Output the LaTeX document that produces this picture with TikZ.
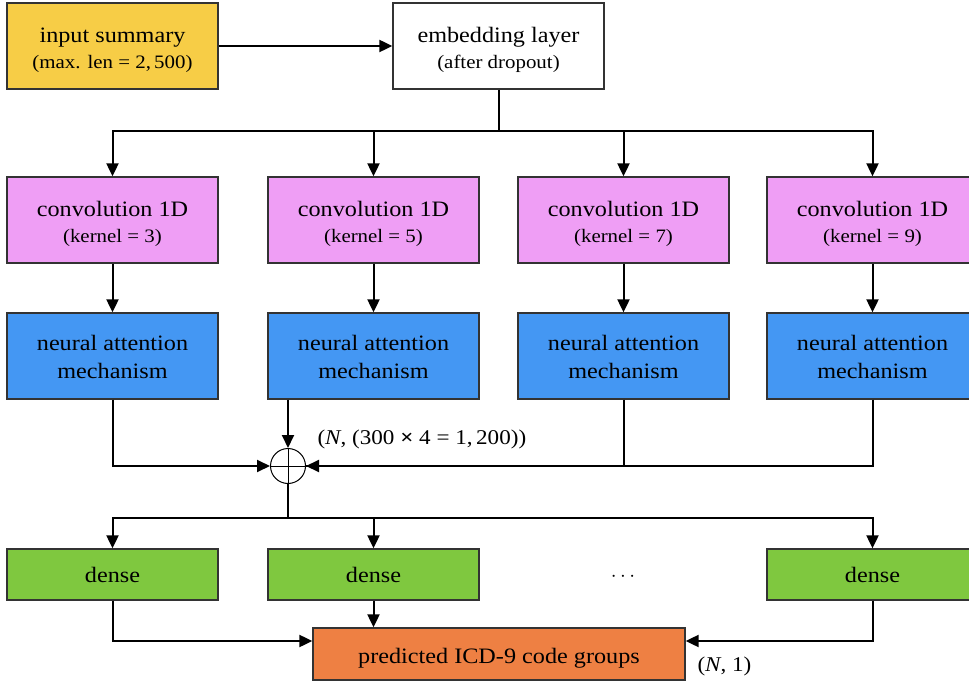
\documentclass[tikz,border=0pt]{standalone}
\usepackage{fontspec}
\setmainfont{Liberation Serif}[FakeStretch=1.1]
\usetikzlibrary{arrows.meta,calc}
\definecolor{cyellow}{HTML}{F7CD46}
\definecolor{cpink}{HTML}{EF9EF5}
\definecolor{cblue}{HTML}{4497F3}
\definecolor{cgreen}{HTML}{7FC83F}
\definecolor{corange}{HTML}{EE8043}
\definecolor{cborder}{HTML}{333333}
\begin{document}
\begin{tikzpicture}[x=1pt,y=-1pt,
 box/.style={draw=cborder, line width=1.3pt, minimum width=211pt, minimum height=86pt, inner sep=0pt, align=center, font=\fontsize{22}{26}\selectfont},
 smalltext/.style={font=\fontsize{21}{24}\selectfont},
 arr/.style={line width=2pt, -{Triangle[length=13pt,width=12pt]}},
 ln/.style={line width=2pt},
]
\useasboundingbox (0,0) rectangle (969,687);
\newcommand{\sm}{\fontsize{19}{22}\selectfont}
\newcommand{\tallst}{\rule{0pt}{24pt}}
\node[box, fill=cyellow] (inp) at (112.5,46) {\tallst input summary\\{\sm (max. len = 2,\,500)}};
\node[box, fill=white] (emb) at (498.5,46) {\tallst embedding layer\\{\sm (after dropout)}};
\foreach \i/\x/\k in {1/112.5/3, 2/373.5/5, 3/623.5/7, 4/872.5/9}{
  \node[box, fill=cpink] (c\i) at (\x,220) {\tallst convolution 1D\\{\sm (kernel = \k)}};
  \node[box, fill=cblue, font=\fontsize{22}{28}\selectfont] (a\i) at (\x,356) {\rule{0pt}{18pt}neural attention\\mechanism};
}
\node[draw, circle, minimum size=35pt, inner sep=0pt, line width=1pt] (sum) at (288,466) {};
\node[box, minimum height=51pt, fill=cgreen] (d1) at (112.5,574.5) {dense};
\node[box, minimum height=51pt, fill=cgreen] (d2) at (373.5,574.5) {dense};
\node[box, minimum height=51pt, fill=cgreen] (d4) at (872.5,574.5) {dense};
\node[font=\fontsize{22}{27}\selectfont] (dots) at (623,577) {$\cdots$};
\node[box, minimum width=372pt, minimum height=52pt, fill=corange] (out) at (499,654) {\rule{0pt}{23pt}predicted ICD-9 code groups};
\node[anchor=west, smalltext] (lab1) at (314,439) {(\textit{N}, (300 \textbf{×} 4 = 1,\,200))};
\node[anchor=west, smalltext] (lab2) at (694,666) {(\textit{N}, 1)};

\draw[arr] (inp) -- (emb);
\coordinate (b1) at (498.5,131);
\draw[ln] (emb.south) -- (b1);
\foreach \i in {1,2,3,4}{
  \draw[arr] (b1) -| (c\i.north);
  \draw[arr] (c\i) -- (a\i);
}
\draw[arr] (a1.south) |- (sum.west);
\draw[arr] (a2.south -| sum.north) -- (sum.north);
\draw[ln] (a4.south) |- (sum.east);
\draw[arr] (a3.south) |- (sum.east);
\draw[line width=0.8pt] (sum.north) -- (sum.south) (sum.west) -- (sum.east);
\coordinate (b2) at (288,518);
\draw[ln] (sum.south) -- (b2);
\draw[arr] (b2) -| (d1.north);
\draw[arr] (b2) -| (d2.north);
\draw[arr] (b2) -| (d4.north);
\draw[arr] (d1.south) |- ($(out.west)+(0,-13)$);
\draw[arr] (d2.south) -- (d2.south |- out.north);
\draw[arr] (d4.south) |- ($(out.east)+(0,-13)$);
\end{tikzpicture}
\end{document}
